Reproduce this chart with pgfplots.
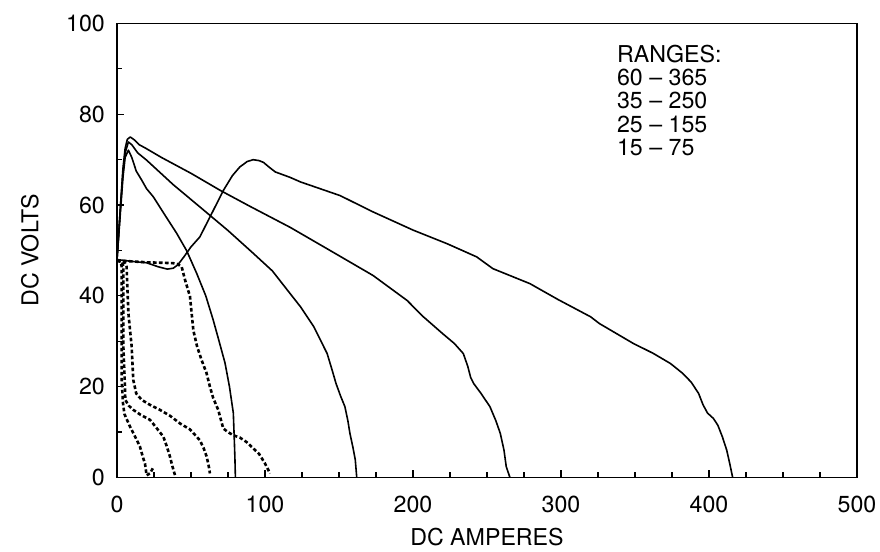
\documentclass[border=0pt]{standalone}
\usepackage{fontspec}
\setmainfont{TeX Gyre Heros}
\usepackage{pgfplots}
\pgfplotsset{compat=1.18}

\begin{document}
\fontsize{11.6}{13}\selectfont
\begin{tikzpicture}
\path[use as bounding box] (-58.5pt,-37.25pt) rectangle (381.5pt,238.75pt);
\begin{axis}[
  scale only axis,
  width=370pt, height=227pt,
  xmin=0, xmax=500, ymin=0, ymax=100,
  xtick={0,100,...,500}, ytick={0,20,...,100},
  minor x tick num=3, minor y tick num=1,
  xtick pos=bottom, ytick pos=left,
  tick align=inside,
  major tick length=3.5pt, minor tick length=2.5pt,
  every tick/.style={black, line width=0.6pt},
  axis line style={line width=0.9pt},
  /pgf/number format/assume math mode=true,
  ticklabel style={font=\fontsize{11.6}{13}\selectfont},
  xticklabel style={yshift=-5pt},
  yticklabel style={xshift=-2pt},
  xlabel={DC AMPERES}, ylabel={DC VOLTS},
  xlabel style={at={(axis description cs:0.5,-0.132)}, anchor=center},
  ylabel style={at={(axis description cs:-0.1176,0.5)}, anchor=center},
  label style={font=\fontsize{11.6}{13}\selectfont},
  solid curve/.style={black, line width=0.8pt, line join=round},
  dot curve/.style={black, line width=1.3pt, dash pattern=on 1.8pt off 1.2pt},
]
% 60 - 365 range
\addplot[solid curve] coordinates {
 (0,48) (10,47.6) (20,47.3) (28,46.4) (34,45.9) (38,46.1) (41,46.8) (45,48.5)
 (50,50.8) (56,53) (63,57.5) (72,63.3) (78,66.5) (83,68.4) (88,69.6) (92,70)
 (96,69.8) (99,69.4) (103,68.3) (107,67.3) (117,66.1) (124,65.1) (150.7,62.1)
 (173,58.5) (200,54.5) (223,51.5) (243,48.6) (254,46) (279,42.7) (298,39.2)
 (320,35.4) (326,33.9) (349,29.5) (362,27.4) (374,25.1) (382,23) (388,21)
 (393,18.5) (396,16) (399,14.2) (403,13) (406,11.5) (409,9) (412,6) (414,3.1) (416,0)};
% 35 - 250
\addplot[solid curve] coordinates {
 (0,48) (2,58) (4,68) (5.5,72.5) (7,74.5) (9,75) (12,74.3) (15,73.3) (19,72.6)
 (30,70.5) (50,67) (70,63.2) (90,59.7) (117,55.1) (144,50) (173,44.5) (196,39)
 (207,35.4) (220,31.7) (228,29.5) (234,27.3) (237,24.5) (239,22) (241,20.7)
 (246,18.5) (252,15.6) (256,12.5) (259,9.7) (261.5,6) (263,2.4) (265.5,0)};
% 25 - 155
\addplot[solid curve] coordinates {
 (0,48) (2,58) (4,67) (5.5,71.5) (7.7,73.9) (10,73.3) (14,71.5) (20,69.9)
 (38,64.5) (56,59.6) (75,54.4) (92,49.4) (105,45.5) (117,40.5) (124,37.6)
 (133,33.2) (142,27.3) (145.5,23.5) (148,20.7) (151,18) (154,15.6) (156,12.5)
 (157.4,9.7) (159.5,6.5) (161,3.9) (162,0)};
% 15 - 75
\addplot[solid curve] coordinates {
 (0,48) (2,57) (4,66) (5.5,70.5) (7.7,72.1) (10,70.5) (13,67.5) (16.7,65.5)
 (20,63.6) (24.6,61.8) (32,58) (40.3,53.8) (47,50) (53.8,45) (60,40) (65,34.7)
 (69,30) (73,25.2) (76,20) (78.6,14.2) (79.3,8) (79.7,4) (80,0)};
% dotted curves
\addplot[dot curve] coordinates {
 (0,47.8) (10,47.6) (20,47.4) (30,47.3) (38,47.2) (41,47) (43.7,46.4) (46,43.5)
 (49.3,39.9) (51.6,32.4) (54,29) (57,26) (60.5,23) (62.8,20) (65,17.5) (68.4,14.9)
 (71.8,10.8) (75,10) (78.6,9.3) (83,8.8) (87.6,7.8) (92.1,6.4) (96,5.2) (100,3.1) (103.4,0.9)};
\addplot[dot curve] coordinates {
 (0,47.8) (5,47.5) (6.5,46.4) (7,42) (7.7,36.2) (8.8,32.5) (9.9,28.9) (11,21.5)
 (13,18.5) (16.7,17.1) (22.3,16) (29,14.9) (35.8,13.6) (42.6,11.9) (49.3,10.6)
 (53.8,9) (56,8.2) (58.5,6.5) (60.6,4.6) (62,2.5) (62.8,0.9)};
\addplot[dot curve] coordinates {
 (0,47.8) (3.5,47.5) (4.3,46.4) (4.3,40) (4.3,28.9) (5.4,20) (5.6,17.1) (8,15.8)
 (11,14.9) (16,13.8) (22.3,12.7) (26,11.2) (31.3,9) (33.6,6.9) (35.8,4.6) (37.5,2.4) (39.2,0.5)};
\addplot[dot curve] coordinates {
 (0,47.8) (2.5,47.5) (3.2,46.4) (3.2,35) (3.2,21.5) (4,16.5) (5,14) (8.8,11.2)
 (13,8.5) (15.5,6.8) (17.5,4.5) (18.9,3.1) (20,0.5) (22.3,0.9) (24.5,2.2)};
\node[anchor=north west, inner sep=0pt, align=left,
      font=\fontsize{11.6}{11.7}\selectfont] at (axis cs:337.6,95.4)
  {RANGES:\\60 \textendash{} 365\\35 \textendash{} 250\\25 \textendash{} 155\\15 \textendash{} 75};
\end{axis}
\end{tikzpicture}
\end{document}
